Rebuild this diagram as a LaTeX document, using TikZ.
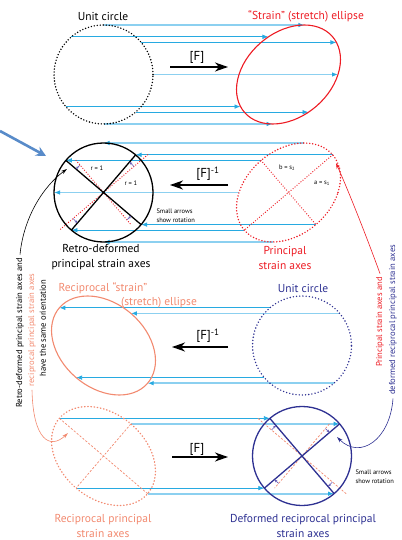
\documentclass[tikz,border=0pt]{standalone}
\usepackage{fontspec}
\setmainfont{PT Sans}
\usetikzlibrary{arrows.meta}

\definecolor{raycol}{RGB}{39,170,225}
\definecolor{raylight}{RGB}{140,208,240}
\definecolor{strred}{RGB}{237,28,36}
\definecolor{recip}{RGB}{242,138,112}
\definecolor{defblue}{RGB}{46,49,146}
\definecolor{rotcol}{RGB}{102,90,180}
\definecolor{pointer}{RGB}{88,139,201}

\newcommand{\rcirc}{49.5}   % radius of the unit circle
\newcommand{\gshear}{0.32}  % shear of [F]

\tikzset{
  ray/.style={raycol, line width=0.8pt, -{Latex[length=6pt,width=4.6pt]}},
  rayl/.style={raylight, line width=1.6pt, -{Latex[length=6pt,width=4.6pt,color=raycol]}},
  unitdots/.style={line width=1.6pt, dash pattern=on 0pt off 3pt, line cap=round},
  strdots/.style={strred, line width=1.6pt, dash pattern=on 0pt off 3pt, line cap=round},
  axdots/.style={strred, line width=1.3pt, dash pattern=on 0pt off 2.6pt, line cap=round},
  bluedots/.style={defblue, line width=1.6pt, dash pattern=on 0pt off 3.2pt, line cap=round},
  recipdots/.style={recip, line width=1.3pt, dash pattern=on 0.6pt off 2.6pt, line cap=round},
  recipdash/.style={recip, line width=0.7pt, dash pattern=on 2.2pt off 1.6pt},
  rotarr/.style={rotcol, line width=0.6pt, -{Stealth[length=3pt,width=2.6pt]}},
  fmap/.style={line width=1.3pt, -{Stealth[length=13pt,width=9pt,inset=4pt]}},
  note/.style={line width=0.6pt, -{Stealth[length=6pt,width=3.6pt]}},
  lab/.style={font=\fontsize{11.5}{15}\selectfont, align=center},
  flab/.style={font=\fontsize{13}{14}\selectfont},
  smalltxt/.style={font=\fontsize{6.5}{9}\selectfont, align=left},
  side/.style={font=\fontsize{8.6}{10}\selectfont, rotate=90}
}

\begin{document}
\begin{tikzpicture}[x=1pt,y=-1pt]
\useasboundingbox (0,0) rectangle (401,540);

% [F] : unit circle -> strain ellipse
\begin{scope}[shift={(103.5,74.5)},yscale=-1]
\foreach \yy/\s/\k in {49.5/0/rayl,37.7/-1/ray,32.1/1/ray,0/1/rayl,-32.1/-1/ray,-37.7/1/ray,-49.5/0/rayl}{
  \pgfmathsetmacro\xa{\s*sqrt(abs(\rcirc*\rcirc-(\yy)*(\yy)))}
  \draw[\k] (\xa,\yy) -- ({\xa+185+\gshear*(\yy)},\yy);
}
\draw[unitdots] (0,0) circle (\rcirc);
\draw[strred, line width=1.1pt, xshift=185, xslant=-\gshear] (0,0) circle (\rcirc);
\end{scope}

% [F]^-1 : strain ellipse -> circle
\begin{scope}[shift={(103.5,192.5)},yscale=-1]
\foreach \yy/\s/\k in {49.5/0/rayl,37.7/1/ray,32.1/-1/ray,0/-1/rayl,-32.1/1/ray,-37.7/-1/ray,-49.5/0/rayl}{
  \pgfmathsetmacro\xa{\s*sqrt(abs(\rcirc*\rcirc-(\yy)*(\yy)))}
  \draw[\k] ({\xa+185+\gshear*(\yy)},\yy) -- (\xa,\yy);
}
\draw[axdots] (40.5:58) -- (220.5:58) (130.5:42.2) -- (310.5:42.2);
\draw[line width=1.3pt] (0,0) circle (\rcirc);
\draw[line width=1.3pt] (49.5:\rcirc) -- (229.5:\rcirc) (139.5:\rcirc) -- (319.5:\rcirc);
\foreach \a/\rad in {40.5/40,220.5/40,130.5/36,310.5/36}
  \draw[rotarr] (\a:\rad) arc[start angle=\a, end angle=\a+9, radius=\rad];
\draw[strdots, xshift=185, xslant=-\gshear] (0,0) circle (\rcirc);
\begin{scope}[xshift=185]
\draw[axdots] (40.5:58) -- (220.5:58) (130.5:42.2) -- (310.5:42.2);
\end{scope}
\end{scope}

% [F]^-1 : unit circle -> reciprocal ellipse
\begin{scope}[shift={(302,345.5)},yscale=-1]
\foreach \yy/\s/\k in {37.7/-1/ray,32.1/1/rayl,-32.1/-1/ray,-37.7/1/rayl}{
  \pgfmathsetmacro\xa{\s*sqrt(abs(\rcirc*\rcirc-(\yy)*(\yy)))}
  \draw[\k] (\xa,\yy) -- ({\xa-198.5-\gshear*(\yy)},\yy);
}
\draw[bluedots] (0,0) circle (\rcirc);
\draw[recip, line width=1.1pt, xshift=-198.5, xslant=\gshear] (0,0) circle (\rcirc);
\end{scope}

% [F] : reciprocal ellipse -> circle
\begin{scope}[shift={(302,456)},yscale=-1]
\foreach \yy/\s/\k in {37.7/-1/ray,32.1/1/rayl,-32.1/-1/ray,-37.7/1/rayl}{
  \pgfmathsetmacro\xa{\s*sqrt(abs(\rcirc*\rcirc-(\yy)*(\yy)))}
  \draw[\k] ({\xa-198.5-\gshear*(\yy)},\yy) -- (\xa,\yy);
}
\draw[recipdots, xshift=-198.5, xslant=\gshear] (0,0) circle (\rcirc);
\begin{scope}[xshift=-198.5]
\draw[recipdash] (139.5:58) -- (319.5:58) (49.5:42.2) -- (229.5:42.2);
\end{scope}
\draw[recipdash] (139.5:58) -- (319.5:58) (49.5:42.2) -- (229.5:42.2);
\draw[defblue, line width=1.3pt] (0,0) circle (\rcirc);
\draw[defblue, line width=1.3pt] (130.5:\rcirc) -- (310.5:\rcirc) (40.5:\rcirc) -- (220.5:\rcirc);
\foreach \a/\rad in {139.5/40,319.5/40,49.5/36,229.5/36}
  \draw[rotarr] (\a:\rad) arc[start angle=\a, end angle=\a-9, radius=\rad];
\end{scope}

% labels
\node[lab] (uc1) at (103,17) {Unit circle};
\node[lab, text=strred] (sel) at (306,16) {“Strain” (stretch) ellipse};
\node[flab] (f1) at (197,57) {[F]};
\coordinate (f1s) at (170,67); \coordinate (f1e) at (228,67);
\draw[fmap] (f1s) -- (f1e);

\node[flab] (f2) at (208,174) {[F]\textsuperscript{-1}};
\coordinate (f2s) at (228,185); \coordinate (f2e) at (170,185);
\draw[fmap] (f2s) -- (f2e);
\node[smalltxt] (r1) at (97,168) {r = 1};
\node[smalltxt] (r2) at (131,183) {r = 1};
\node[smalltxt] (bs) at (287,168) {b = s\textsubscript{2}};
\node[smalltxt] (as) at (322,183) {a = s\textsubscript{1}};
\node[smalltxt, anchor=west] (rot1) at (153,216) {Small arrows\\show rotation};
\node[lab] (retro) at (101,257.5) {Retro-deformed\\principal strain axes};
\node[lab, text=strred] (prin) at (285,257.5) {Principal\\strain axes};

\node[lab, text=recip] (rse) at (103,288) {Reciprocal “strain”};
\node[lab, text=recip] (rse2) at (159,303) {(stretch) ellipse};
\node[lab, text=defblue] (uc2) at (303,288) {Unit circle};
\node[flab] (f3) at (208,336) {[F]\textsuperscript{-1}};
\coordinate (f3s) at (228,347); \coordinate (f3e) at (172,347);
\draw[fmap] (f3s) -- (f3e);

\node[flab] (f4) at (197,449) {[F]};
\coordinate (f4s) at (172,457); \coordinate (f4e) at (228,457);
\draw[fmap] (f4s) -- (f4e);
\node[smalltxt, anchor=west] (rot2) at (352,477) {Small arrows\\show rotation};
\node[lab, text=recip] (rpa) at (103,525.5) {Reciprocal principal\\strain axes};
\node[lab, text=defblue] (dra) at (303,525.5) {Deformed reciprocal principal\\strain axes};

% side notes
\node[side] (sa) at (20,333) {Retro-deformed principal strain axes and};
\node[side, text=recip] (sb) at (32,330) {reciprocal principal strain axes};
\node[side] (sc) at (43,328) {have the same orientation};
\node[side, text=strred] (sr) at (380,322) {Principal strain axes and};
\node[side, text=defblue] (sbl) at (393,320) {deformed reciprocal principal strain axes};

\coordinate (retroend) at (67,169);
\coordinate (recipend) at (68,433);
\coordinate (prinend) at (336,163);
\coordinate (defend) at (337,437);
\draw[note] (sa.east) .. controls (24,215) and (45,185) .. (retroend);
\draw[note, recip] (sb.west) .. controls (33,440) and (50,450) .. (recipend);
\draw[note, strred] (sr.east) .. controls (366,235) and (348,190) .. (prinend);
\draw[note, defblue] (sbl.west) .. controls (390,440) and (360,460) .. (defend);

\coordinate (ptail) at (0,131); \coordinate (phead) at (46,156);
\draw[pointer, line width=2.6pt, -{Stealth[length=10pt,width=10pt]}] (ptail) -- (phead);
\end{tikzpicture}
\end{document}
